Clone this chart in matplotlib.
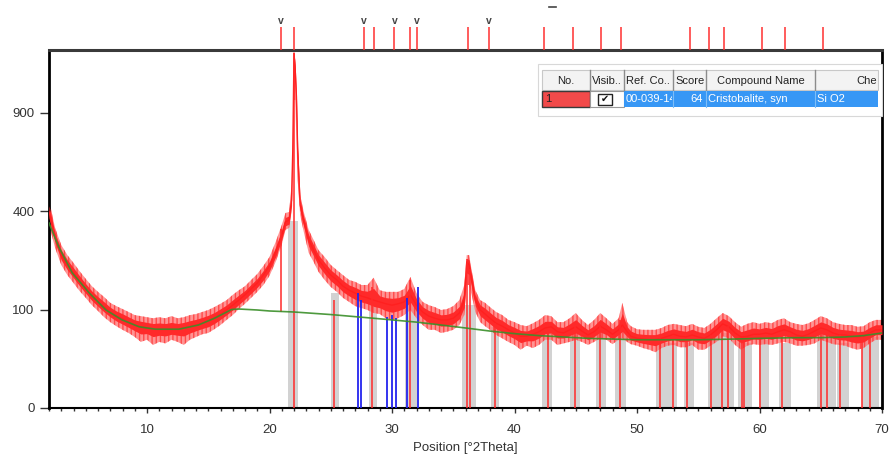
import numpy as np
import matplotlib
matplotlib.use("Agg")
import matplotlib.pyplot as plt
from matplotlib.patches import Rectangle
from matplotlib.ticker import MultipleLocator

# measured scan: centre line and noise envelope (counts)
scan_theta = [2.0, 2.5, 3.0, 3.5, 4.0, 4.5, 5.0, 5.5, 6.0, 6.5, 7.0, 7.5, 8.0, 8.5,
              9.0, 9.5, 10.0, 10.5, 11.0, 11.5, 12.0, 12.5, 13.0, 13.5, 14.0, 14.5,
              15.0, 15.5, 16.0, 16.5, 17.0, 17.5, 18.0, 18.5, 19.0, 19.5, 20.0, 20.5,
              21.0, 21.3, 21.6, 21.8, 21.9, 22.0, 22.1, 22.2, 22.3, 22.5, 22.8, 23.2,
              23.6, 24.0, 24.5, 25.0, 25.5, 26.0, 26.5, 27.0, 27.5, 28.0, 28.5, 29.0,
              29.5, 30.0, 30.5, 31.0, 31.5, 32.0, 32.5, 33.0, 33.5, 34.0, 34.5, 35.0,
              35.5, 35.9, 36.1, 36.3, 36.5, 36.8, 37.2, 37.6, 38.0, 38.5, 39.0, 39.5,
              40.0, 40.5, 41.0, 41.5, 42.0, 42.5, 43.0, 43.5, 44.0, 44.5, 45.0, 45.5,
              46.0, 46.5, 47.0, 47.5, 48.0, 48.5, 48.8, 49.2, 49.5, 50.0, 50.5, 51.0,
              51.5, 52.0, 52.5, 53.0, 53.5, 54.0, 54.5, 55.0, 55.5, 56.0, 56.5, 57.0,
              57.5, 58.0, 58.5, 59.0, 59.5, 60.0, 60.5, 61.0, 61.5, 62.0, 62.5, 63.0,
              63.5, 64.0, 64.5, 65.0, 65.5, 66.0, 66.5, 67.0, 67.5, 68.0, 68.5, 69.0,
              69.5, 70.0]
scan_mid = [398, 298, 241, 211, 188, 166, 146, 129, 116, 105, 95, 87, 82, 76,
            71, 68, 66, 64, 64, 64, 64, 64, 66, 68, 71, 74,
            78, 83, 91, 99, 109, 120, 132, 146, 161, 182, 208, 251,
            308, 357, 364, 446, 686, 1299, 1178, 997, 686, 425, 357, 291,
            257, 226, 202, 182, 169, 153, 143, 136, 129, 125, 120, 116,
            112, 109, 112, 116, 132, 109, 95, 87, 83, 80, 80, 83,
            93, 120, 220, 211, 169, 120, 99, 91, 83, 74, 69, 63,
            58, 53, 53, 56, 60, 66, 68, 60, 58, 63, 68, 61,
            55, 60, 69, 63, 56, 63, 71, 60, 53, 50, 49, 48,
            48, 50, 53, 56, 53, 52, 55, 52, 50, 55, 63, 73,
            68, 58, 52, 53, 56, 56, 58, 56, 60, 63, 60, 55,
            53, 56, 61, 66, 63, 58, 55, 55, 53, 52, 53, 58,
            63, 63]
scan_lo = [345, 264, 211, 182, 161, 141, 125, 109, 97, 85, 76, 69, 63, 58,
           52, 45, 48, 41, 45, 43, 48, 45, 41, 48, 52, 56,
           58, 64, 71, 80, 89, 101, 112, 125, 139, 156, 180, 220,
           274, 327, 334, 396, 584, 978, 978, 724, 536, 384, 319, 248,
           220, 191, 169, 151, 139, 125, 116, 107, 103, 99, 93, 91,
           83, 80, 83, 89, 99, 83, 71, 63, 63, 58, 60, 63,
           71, 89, 156, 156, 132, 95, 76, 69, 63, 55, 50, 45,
           41, 35, 40, 37, 41, 48, 48, 41, 43, 45, 48, 45,
           41, 45, 50, 48, 42, 48, 50, 45, 42, 40, 37, 35,
           32, 37, 40, 41, 38, 38, 41, 35, 35, 40, 45, 53,
           50, 41, 35, 40, 42, 41, 42, 41, 43, 45, 43, 40,
           40, 41, 43, 48, 45, 42, 41, 40, 37, 35, 37, 43,
           48, 48]
scan_hi = [446, 334, 274, 241, 217, 193, 172, 153, 139, 127, 114, 107, 101, 95,
           89, 87, 85, 83, 85, 83, 87, 83, 85, 89, 91, 95,
           99, 105, 112, 120, 132, 143, 153, 169, 185, 208, 235, 284,
           345, 392, 396, 512, 724, 1306, 1248, 1010, 724, 468, 396, 327,
           291, 257, 235, 211, 196, 182, 169, 164, 156, 156, 175, 143,
           139, 139, 139, 146, 177, 136, 116, 109, 105, 99, 101, 107,
           120, 156, 241, 241, 196, 143, 120, 114, 105, 95, 89, 80,
           76, 71, 69, 74, 80, 89, 87, 76, 76, 83, 93, 80,
           71, 80, 93, 83, 73, 83, 114, 76, 69, 64, 63, 63,
           63, 66, 71, 73, 71, 69, 73, 68, 66, 73, 83, 93,
           87, 76, 68, 73, 76, 73, 76, 74, 80, 83, 76, 73,
           71, 74, 80, 87, 83, 76, 73, 71, 71, 68, 69, 76,
           80, 80]

# fitted background
bg_theta = [2.0, 2.8, 3.9, 5.3, 6.65, 7.96, 9.35, 10.7, 12.6, 14.2, 15.6, 16.9,
            17.5, 19.0, 20.0, 22.0, 25.0, 28.0, 30.0, 32.0, 34.0, 36.0, 38.0,
            40.0, 42.0, 44.0, 46.0, 48.0, 50.0, 52.0, 55.0, 58.0, 60.0, 63.0,
            65.0, 67.0, 68.5, 70.0]
bg_counts = [353, 267, 188, 136, 99, 80, 68, 64, 64, 71, 84, 100,
             101, 99, 97, 95, 90, 84, 80, 76, 71, 66, 61,
             57, 54, 52, 50, 49, 48, 48, 48, 49, 50, 51,
             51, 52, 54, 58]

# peak regions (grey)
band_start = [21.51, 25.02, 28.12, 31.06, 35.71, 38.08, 42.24, 44.53, 46.65, 48.20,
              51.55, 53.84, 55.80, 58.24, 59.96, 61.59, 64.69, 66.33, 68.37]
band_end = [22.33, 25.67, 28.78, 32.04, 36.86, 38.73, 43.06, 45.35, 47.47, 49.10,
            53.27, 54.65, 57.92, 59.39, 60.78, 62.57, 66.24, 67.31, 69.76]
band_top = [360, 136, 114, 125, 110, 68, 58, 60, 66, 60,
            44, 44, 58, 44, 48, 44, 58, 44, 52]

# Cristobalite reference lines inside the plot
ref_pos = [22.0, 25.3, 28.4, 31.45, 36.1, 36.4, 38.4, 42.7, 44.9, 47.0, 48.6,
           51.9, 52.9, 54.1, 56.0, 56.9, 57.4, 58.6, 58.7, 60.0, 61.8, 65.0,
           65.5, 66.6, 68.4, 69.0]
ref_height = [1300, 120, 150, 170, 230, 200, 75, 65, 70, 70, 80,
              50, 55, 50, 55, 70, 70, 50, 50, 55, 60, 62,
              60, 55, 55, 58]
peak_pos = [20.95]
peak_lo = [95]
peak_hi = [330]

blue_pos = [27.2, 27.5, 29.6, 30.0, 30.3, 31.2, 32.1]
blue_height = [136, 120, 85, 89, 83, 125, 151]

# stick pattern above the plot
top_pos = [20.94, 22.0, 27.7, 28.5, 30.2, 31.5, 32.0, 36.2, 37.9, 42.4, 44.8,
           47.1, 48.7, 54.3, 55.9, 57.1, 60.2, 62.1, 65.2]
top_marked = [20.94, 27.7, 30.2, 32.0, 37.9]

y_ticks = [0, 100, 400, 900]
x_ticks = [10, 20, 30, 40, 50, 60, 70]

W, H = 892, 455
plt.rcParams["font.family"] = ["Liberation Sans", "DejaVu Sans"]
fig = plt.figure(figsize=(W / 100, H / 100), dpi=100)
ax = fig.add_axes([49 / W, 1 - 408 / H, 833 / W, 358 / H])

ax.set_yscale("function",
              functions=(lambda v: np.sqrt(np.clip(v, 0, None)), np.square))
ax.set_xlim(2, 70)
ax.set_ylim(0, 1321)

ax.bar(band_start, band_top, width=np.subtract(band_end, band_start),
       align="edge", color="#d2d2d2", lw=0, zorder=1)

# scan: light outer envelope, dense core around the centre line
mid = np.array(scan_mid, float)
lo = np.array(scan_lo, float)
hi = np.array(scan_hi, float)
ax.fill_between(scan_theta, lo, hi, facecolor="#ff7070", alpha=0.75,
                hatch="||||", edgecolor="#ff3030", lw=0, zorder=2)
ax.fill_between(scan_theta, (lo + mid) / 2, (hi + mid) / 2, color="#ff2a2a",
                lw=0, zorder=3)
ax.plot(scan_theta, scan_mid, color="#ff2020", lw=1.0, zorder=3)

ax.vlines(ref_pos, 0, ref_height, color="#ff2a2a", lw=1.1, zorder=4)
ax.vlines(peak_pos, peak_lo, peak_hi, color="#ff2a2a", lw=1.1, zorder=4)
ax.vlines(blue_pos, 0, blue_height, color="#2424ee", lw=1.3, zorder=4)
ax.plot(bg_theta, bg_counts, color="#3b8f2a", lw=1.2, alpha=0.9, zorder=5)

ax.set_yticks(y_ticks)
ax.set_yticklabels([str(t) for t in y_ticks])
ax.set_xticks(x_ticks)
ax.xaxis.set_minor_locator(MultipleLocator(1))
ax.yaxis.set_minor_locator(plt.NullLocator())
ax.tick_params(axis="y", length=6.5, width=1, pad=4, colors="#333333",
               labelsize=9.5)
ax.tick_params(axis="x", which="major", length=3.5, width=1, pad=8,
               colors="#333333", labelsize=9.5)
ax.tick_params(axis="x", which="minor", length=2.5, width=1, color="#333333")
ax.set_xlabel("Position [°2Theta]", fontsize=9.5, color="#333333", labelpad=4)

for side in ("left", "right"):
    ax.spines[side].set_linewidth(2)
    ax.spines[side].set_color("black")
ax.spines["bottom"].set_linewidth(1.5)
ax.spines["top"].set_linewidth(2.2)
ax.spines["top"].set_color("#3a3a3a")

# reference stick pattern strip
ax_top = fig.add_axes([49 / W, 1 - 50 / H, 833 / W, 23 / H])
ax_top.set_xlim(2, 70)
ax_top.set_ylim(0, 1)
ax_top.axis("off")
ax_top.vlines(top_pos, 0, 1, color="#ff3030", lw=1.1)
for x in top_marked:
    ax_top.text(x, 1.25, "v", ha="center", va="center", fontsize=7.5,
                fontweight="bold", color="#444444", clip_on=False)

# pattern list panel, in pixel coordinates
ui = fig.add_axes([0, 0, 1, 1], zorder=10)
ui.set_xlim(0, W)
ui.set_ylim(H, 0)
ui.axis("off")
ui.patch.set_visible(False)

ui.plot([549, 556], [7, 7], color="#444444", lw=1.2)
ui.add_patch(Rectangle((538, 64), 344, 52, facecolor="white",
                       edgecolor="#d8d8d8", lw=0.8))

cols = [542, 590, 624, 673, 706, 815, 878]
ui.add_patch(Rectangle((542, 70), 336, 20, facecolor="#f3f3f3",
                       edgecolor="#c8c8c8", lw=0.8))
for cx in cols[1:-1]:
    ui.plot([cx, cx], [70, 90], color="#8c8c8c", lw=1)
headers = ["No.", "Visib..", "Ref. Co..", "Score", "Compound Name", "Che"]
aligns = ["center", "left", "left", "left", "center", "right"]
for i, (txt, al) in enumerate(zip(headers, aligns)):
    if al == "center":
        tx = (cols[i] + cols[i + 1]) / 2
    elif al == "left":
        tx = cols[i] + 2
    else:
        tx = cols[i + 1] - 1
    ui.text(tx, 80.5, txt, ha=al, va="center", fontsize=8, color="#222222")

row_y, row_h = 91, 16
ui.add_patch(Rectangle((542, row_y), 48, row_h, facecolor="#f24a4a",
                       edgecolor="#3a3a3a", lw=1))
ui.text(545, row_y + row_h / 2, "1", ha="left", va="center", fontsize=8,
        color="#222222")
ui.add_patch(Rectangle((590, row_y), 34, row_h, facecolor="white",
                       edgecolor="#9a9a9a", lw=0.8))
ui.add_patch(Rectangle((598, row_y + 2.5), 14, 11, facecolor="white",
                       edgecolor="#222222", lw=1))
ui.text(605, row_y + row_h / 2, "\u2714", ha="center", va="center",
        fontsize=7, color="#111111", family="DejaVu Sans")
ui.add_patch(Rectangle((624, row_y), 254, row_h, facecolor="#3797f5",
                       edgecolor="none"))
for cx in cols[3:-1]:
    ui.plot([cx, cx], [row_y, row_y + row_h], color="#7dbdf8", lw=0.8)

ref_clip = Rectangle((624, row_y), 48, row_h, transform=ui.transData)
cell_ref = ui.text(626, row_y + row_h / 2, "00-039-1425", ha="left",
                   va="center", fontsize=8, color="white", clip_on=True)
cell_ref.set_clip_path(ref_clip)
ui.text(703, row_y + row_h / 2, "64", ha="right", va="center", fontsize=8,
        color="white")
ui.text(708, row_y + row_h / 2, "Cristobalite, syn", ha="left", va="center",
        fontsize=8, color="white")
ui.text(817, row_y + row_h / 2, "Si O2", ha="left", va="center", fontsize=8,
        color="white")

fig.savefig("out.png", dpi=100)
